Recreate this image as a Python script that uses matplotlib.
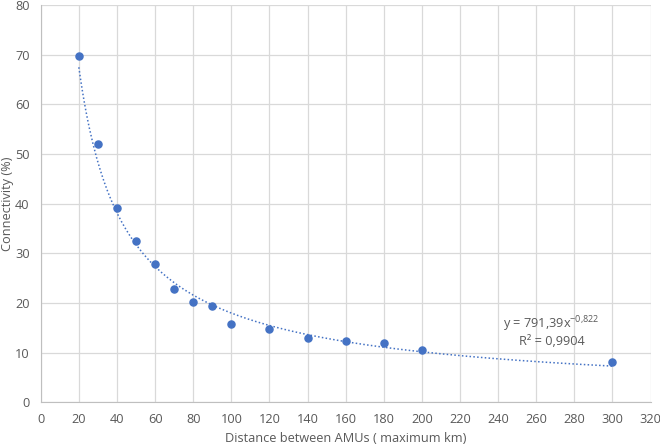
import numpy as np
import matplotlib.pyplot as plt

# Dados
distancia = [20, 30, 40, 50, 60, 70, 80, 90, 100, 120, 140, 160, 180, 200, 300]
conectividade = [69.8, 51.9, 39.1, 32.5, 27.8, 22.9, 20.2, 19.4, 15.8, 14.8, 12.9, 12.3, 11.85, 10.5, 8.2]

# Coeficientes da linha de tendência (potência)
coef_a = 791.39
coef_b = -0.822

azul = '#4472C4'
cinza = '#595959'
fs = 9.2
plt.rcParams['font.family'] = ['Open Sans', 'DejaVu Sans']
plt.rcParams['mathtext.default'] = 'regular'

fig = plt.figure(figsize=(6.6, 4.45), dpi=100)
ax = fig.add_axes([0.0617, 0.096, 0.924, 0.893])

# Linha de tendência
xt = np.linspace(min(distancia), max(distancia), 300)
ax.plot(xt, coef_a * xt ** coef_b, linestyle=(0, (1, 1.5)), color=azul, linewidth=1.1, zorder=2)

# Pontos
ax.scatter(distancia, conectividade, s=26, color=azul, zorder=3)

ax.set_xlim(0, 320)
ax.set_ylim(0, 80)
ax.set_xticks(range(0, 321, 20))
ax.set_yticks(range(0, 81, 10))
ax.grid(True, color='#D9D9D9', linewidth=0.9)
ax.set_axisbelow(True)
for s in ['top', 'right']:
    ax.spines[s].set_visible(False)
for s in ['left', 'bottom']:
    ax.spines[s].set_color('#BFBFBF')
ax.tick_params(length=0, colors=cinza, labelsize=fs)
ax.tick_params(axis='x', pad=8)
ax.tick_params(axis='y', pad=8)

ax.set_xlabel("Distance between AMUs ( maximum km)", color=cinza, fontsize=fs)
ax.set_ylabel("Connectivity (%)", color=cinza, fontsize=fs)
ax.xaxis.set_label_coords(0.5, -0.075)
ax.yaxis.set_label_coords(-0.043, 0.5)

ax.text(268, 15.8, "y = 791,39x$^{-0{,}822}$", ha='center', va='center', color=cinza, fontsize=fs)
ax.text(268, 12.3, "R² = 0,9904", ha='center', va='center', color=cinza, fontsize=fs)

fig.savefig("out.png", dpi=100)
